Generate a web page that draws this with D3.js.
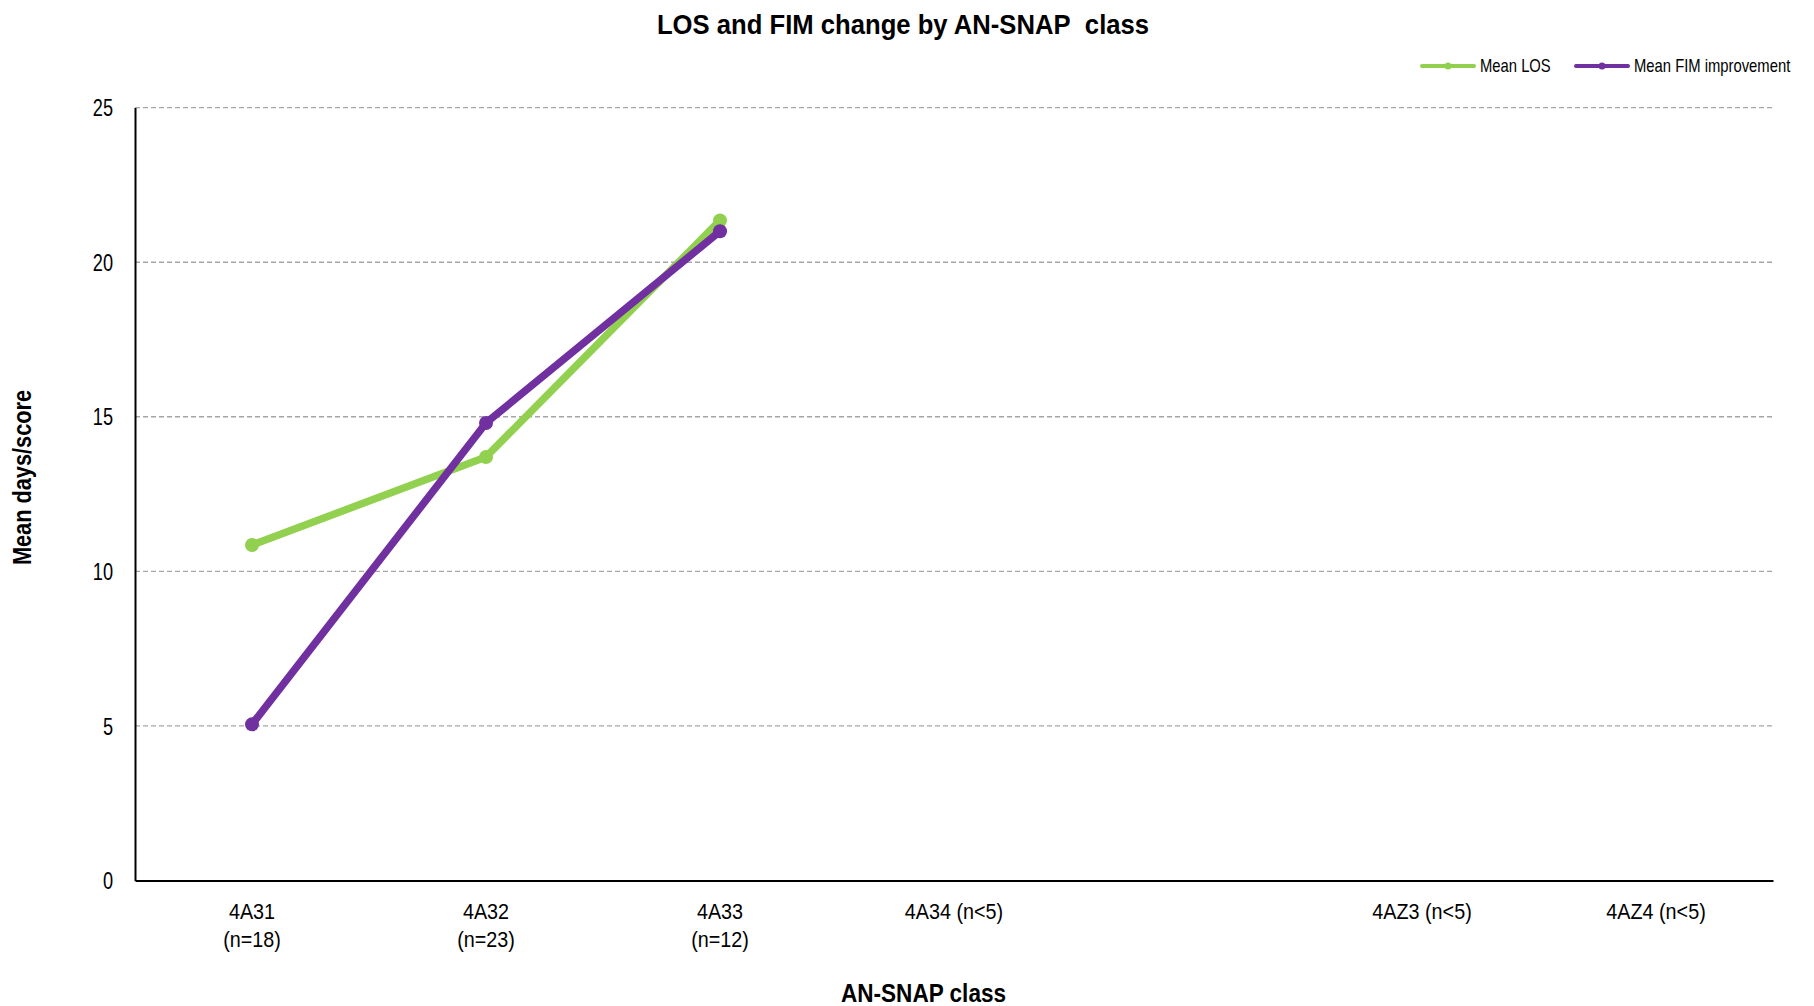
<!DOCTYPE html>
<html>
<head>
<meta charset="utf-8">
<script src="https://cdn.jsdelivr.net/npm/d3@7"></script>
<style>
  html, body { margin: 0; padding: 0; background: #fff; }
  svg { display: block; }
</style>
</head>
<body>
<svg id="chart" width="1814" height="1006"></svg>
<script>
const categories = ["4A31\n(n=18)", "4A32\n(n=23)", "4A33\n(n=12)", "4A34 (n<5)", "", "4AZ3 (n<5)", "4AZ4 (n<5)"];
const meanLOS = [10.85, 13.7, 21.35, null, null, null, null];
const meanFIM = [5.05, 14.8, 21.0, null, null, null, null];
const yTicks = [0, 5, 10, 15, 20, 25];
const seriesNames = ["Mean LOS", "Mean FIM improvement"];
const seriesColors = ["#92D050", "#7030A0"];

const font = "'Liberation Sans', Arial, sans-serif";

const svg = d3.select("#chart");
const margin = { left: 135, right: 1773, top: 107.6, bottom: 880.5 };

const x = d3.scaleBand().domain(d3.range(categories.length)).range([margin.left, margin.right]).padding(0);
const y = d3.scaleLinear().domain([0, 25]).range([margin.bottom, margin.top]);

// condensed text helper
function ctext(parent, tx, ty, str, size, sx, opts = {}) {
  const g = parent.append("g").attr("transform", `translate(${tx},${ty})${opts.rotate ? " rotate(" + opts.rotate + ")" : ""} scale(${sx},1)`);
  return g.append("text").attr("x", 0).attr("y", 0)
    .attr("text-anchor", opts.anchor || "middle")
    .attr("font-family", font).attr("font-size", size)
    .attr("font-weight", opts.bold ? "bold" : "normal")
    .attr("fill", "#000").text(str);
}

// gridlines
svg.append("g").selectAll("line").data(yTicks.filter(d => d > 0)).join("line")
  .attr("x1", margin.left).attr("x2", margin.right)
  .attr("y1", d => y(d)).attr("y2", d => y(d))
  .attr("stroke", "#a6a6a6").attr("stroke-width", 1.4).attr("stroke-dasharray", "5,3");

// y axis
const yAxis = svg.append("g").attr("transform", `translate(${margin.left},0)`)
  .call(d3.axisLeft(y).tickValues(yTicks).tickSize(0).tickFormat(""));
yAxis.select(".domain").attr("stroke", "#000").attr("stroke-width", 2);
yAxis.selectAll(".tick").each(function(d) {
  ctext(d3.select(this), -22, 8.2, String(d), 23, 0.79, { anchor: "end" });
});

// x axis
const xAxis = svg.append("g").attr("transform", `translate(0,${margin.bottom})`)
  .call(d3.axisBottom(x).tickSize(0).tickFormat(""));
xAxis.select(".domain").attr("stroke", "#000").attr("stroke-width", 2);
xAxis.selectAll(".tick").each(function(d) {
  const lines = categories[d].split("\n");
  lines.forEach((l, i) => ctext(d3.select(this), 0, 38 + i * 28, l, 21.5, 0.92));
});

// lines
const series = [meanLOS, meanFIM];
const line = d3.line().defined(d => d.v != null).x(d => x(d.i) + x.bandwidth() / 2).y(d => y(d.v));
series.forEach((s, k) => {
  const pts = s.map((v, i) => ({ v, i }));
  svg.append("path").datum(pts).attr("d", line)
    .attr("fill", "none").attr("stroke", seriesColors[k]).attr("stroke-width", 7.5)
    .attr("stroke-linejoin", "round").attr("stroke-linecap", "round");
  svg.append("g").selectAll("circle").data(pts.filter(d => d.v != null)).join("circle")
    .attr("cx", d => x(d.i) + x.bandwidth() / 2).attr("cy", d => y(d.v))
    .attr("r", 7).attr("fill", seriesColors[k]);
});

// title
ctext(svg, 903, 34, "LOS and FIM change by AN-SNAP\u00a0 class", 27, 0.95, { bold: true });

// axis titles
ctext(svg, 31, 477.5, "Mean days/score", 25, 0.87, { bold: true, rotate: -90 });
ctext(svg, 923.5, 1001.5, "AN-SNAP class", 25.5, 0.885, { bold: true });

// legend
const legendX = [1422, 1576];
seriesNames.forEach((n, k) => {
  const g = svg.append("g").attr("transform", `translate(${legendX[k]},66)`);
  g.append("line").attr("x1", 0).attr("x2", 52).attr("y1", 0).attr("y2", 0)
    .attr("stroke", seriesColors[k]).attr("stroke-width", 4).attr("stroke-linecap", "round");
  g.append("circle").attr("cx", 26).attr("cy", 0).attr("r", 3.5).attr("fill", seriesColors[k]);
  ctext(g, 58, 5.7, n, 18.5, 0.8, { anchor: "start" });
});
</script>
</body>
</html>
